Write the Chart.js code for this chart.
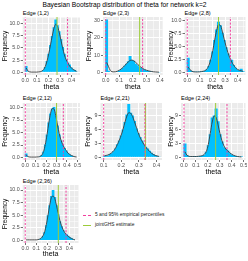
<!DOCTYPE html>
<html><head><meta charset="utf-8">
<script src="https://cdn.jsdelivr.net/npm/chart.js@4.4.1/dist/chart.umd.min.js"></script>
<style>
html,body{margin:0;padding:0;background:#fff;width:248px;height:261px;overflow:hidden;font-family:"Liberation Sans",Arial,sans-serif;}
.t{position:absolute;white-space:nowrap;color:#000;line-height:1;}
canvas{position:absolute;}
</style></head><body>
<div id="root"></div>
<script>
// ---------- DATA ----------
const mainTitle = 'Bayesian Bootstrap distribution of theta for network k=2';
const panelTitles = ['Edge (1,2)','Edge (2,3)','Edge (2,8)','Edge (2,12)','Edge (2,21)','Edge (2,24)','Edge (2,36)'];
const binStarts = [0, 0, 0, 0, 0.098, 0, 0];
const binWidths = [0.015, 0.0133, 0.015, 0.0167, 0.0107, 0.0163, 0.0153];
const hist12 = [1.3,0.2,0.1,0.1,0.1,0.1,0.1,0.1,0.1,0.2,0.5,1.1,2.3,3.8,5.6,7.4,9.2,10.8,9.6,8.4,6.8,5.2,3.8,2.6,2.0,1.6,1.0,0.6,0.5,0.2];
const dens12 = [0.9,0.3,0.1,0.05,0.05,0.05,0.05,0.08,0.12,0.25,0.55,1.2,2.3,3.8,5.6,7.4,9.0,9.8,9.4,8.2,6.6,5.0,3.6,2.6,1.9,1.3,0.9,0.6,0.4,0.2];
const hist23 = [30.5,1.0,0.3,0.2,0.2,0.3,0.5,1.0,1.7,2.6,3.8,5.0,6.5,9.5,7.2,6.8,5.0,4.2,3.2,2.5,2.0,1.5,1.1,0.8,0.6,0.4,0.3,0.2,0.2,0.1];
const dens23 = [5.8,3.5,1.2,0.4,0.3,0.4,0.7,1.2,1.9,2.8,3.9,5.0,6.1,6.9,7.1,6.7,5.9,4.9,3.9,3.0,2.3,1.7,1.3,0.95,0.7,0.5,0.35,0.25,0.18,0.12];
const hist28 = [2.8,0.4,0.2,0.1,0.1,0.1,0.1,0.15,0.2,0.3,0.6,1.2,2.4,4.0,6.2,8.2,9.7,9.0,7.6,6.2,4.8,3.6,2.6,2.4,1.4,0.9,0.5,0.3,0.7,0.2];
const dens28 = [1.0,0.5,0.2,0.1,0.08,0.08,0.1,0.15,0.22,0.35,0.7,1.4,2.6,4.2,6.2,8.0,9.1,9.0,7.9,6.4,5.0,3.8,2.8,2.0,1.4,0.9,0.6,0.4,0.3,0.2];
const hist212 = [0.8,0.1,0.1,0.1,0.1,0.1,0.1,0.1,0.2,0.5,1.2,2.6,4.6,7.0,8.8,9.8,10.1,8.4,6.4,4.6,3.4,2.6,1.9,1.4,0.9,0.6,0.4,0.2,0.1,0.1];
const dens212 = [0.5,0.2,0.1,0.08,0.08,0.08,0.1,0.12,0.2,0.5,1.2,2.6,4.6,6.9,8.8,9.8,9.7,8.4,6.5,4.8,3.5,2.6,1.9,1.4,0.9,0.6,0.4,0.25,0.15,0.1];
const hist221 = [0.3,0.4,0.3,0.7,0.9,1.3,1.9,2.8,3.6,4.7,6.0,7.6,9.2,11.5,9.6,9.0,7.8,6.2,5.2,4.4,3.6,2.8,2.3,1.9,1.4,1.0,0.7,0.4,0.3,0.2];
const dens221 = [0.3,0.4,0.5,0.7,1.0,1.4,2.0,2.8,3.7,4.8,6.1,7.6,8.9,9.6,9.5,8.8,7.7,6.5,5.3,4.3,3.5,2.8,2.2,1.7,1.3,0.9,0.6,0.4,0.3,0.2];
const hist224 = [3.0,0.5,0.2,0.2,0.2,0.3,0.2,0.2,0.3,0.4,0.6,1.2,2.6,5.0,8.6,9.0,10.5,7.8,5.0,3.4,2.2,1.8,1.5,0.9,0.6,0.4,0.3,0.2,0.1,0.2];
const dens224 = [1.2,0.5,0.25,0.2,0.2,0.2,0.2,0.25,0.3,0.4,0.7,1.3,2.8,5.2,7.6,8.9,8.6,7.0,5.1,3.6,2.5,1.8,1.4,1.0,0.7,0.45,0.3,0.2,0.15,0.1];
const hist236 = [0.1,0.1,0.1,0.1,0.1,0.1,0.1,0.1,0.2,0.4,0.8,1.6,3.0,5.0,7.0,8.8,10.0,8.6,7.0,5.2,3.8,2.8,2.0,1.4,1.2,0.9,0.6,0.4,0.2,0.1];
const dens236 = [0.1,0.1,0.1,0.1,0.1,0.1,0.1,0.15,0.25,0.45,0.9,1.7,3.1,5.0,7.0,8.5,8.8,8.3,7.0,5.4,4.0,2.9,2.1,1.5,1.1,0.8,0.55,0.35,0.2,0.1];
const histAll = [hist12, hist23, hist28, hist212, hist221, hist224, hist236];
const densAll = [dens12, dens23, dens28, dens212, dens221, dens224, dens236];
const pctLow  = [0.0, 0.0, 0.0, 0.0, 0.1, 0.0, 0.0];
const pctHigh = [0.365, 0.272, 0.342, 0.365, 0.334, 0.36, 0.37];
const estimate = [0.274, 0.25, 0.248, 0.30, 0.337, 0.265, 0.30];
const legendLabels = ['5 and 95% empirical percentiles', 'jointGHS estimate'];

// ---------- LAYOUT (positions / axis ranges) ----------
const layout = [
 {L:22.7,R:80,T:17,B:75,freq:5,thetaY:87,titleY:14, xMin:-0.0225,xMax:0.4725,xStep:0.1, yMin:-0.54,yMax:11.3,yStep:2.5,yDig:1},
 {L:103,R:162.7,T:17,B:75,freq:88.3,thetaY:87,titleY:14, xMin:-0.02,xMax:0.42,xStep:0.1, yMin:-1.5,yMax:32,yStep:10,yDig:0},
 {L:184.5,R:245.5,T:17,B:75,freq:170.3,thetaY:87,titleY:14, xMin:-0.022,xMax:0.462,xStep:0.1, yMin:-0.5,yMax:10.6,yStep:2.5,yDig:1},
 {L:22.7,R:80,T:103,B:160,freq:5,thetaY:172,titleY:99, xMin:-0.025,xMax:0.525,xStep:0.1, yMin:-0.5,yMax:10.9,yStep:2.5,yDig:1},
 {L:100.5,R:162,T:103,B:160,freq:88,thetaY:172,titleY:99, xMin:0.082,xMax:0.431,xStep:0.1, yMin:-0.58,yMax:11.7,yStep:3,yDig:0},
 {L:181,R:245.5,T:103,B:160,freq:170.3,thetaY:172,titleY:99, xMin:-0.025,xMax:0.515,xStep:0.1, yMin:-0.55,yMax:11.7,yStep:3,yDig:0},
 {L:22.7,R:78.5,T:185,B:243,freq:5,thetaY:254,titleY:182, xMin:-0.023,xMax:0.483,xStep:0.1, yMin:-0.52,yMax:11,yStep:2.5,yDig:1}
];

const PINK = '#F2409F', GREEN = '#9CCB3A', BLUE = '#00BFFF';
const root = document.getElementById('root');
function addText(txt, x, y, size, color, anchor){
  const d = document.createElement('div');
  d.className = 't'; d.textContent = txt;
  d.style.fontSize = size + 'px'; d.style.color = color || '#000';
  d.style.top = (y - size/2) + 'px';
  if (anchor === 'center') { d.style.left = x + 'px'; d.style.transform = 'translateX(-50%)'; }
  else d.style.left = x + 'px';
  root.appendChild(d); return d;
}
addText(mainTitle, 124.5, 5, 6.7, '#000', 'center');

function isMajor(v, step){ return Math.abs(v/step - Math.round(v/step)) < 1e-6; }
function mkTicks(min, max, step){
  const half = step/2, out = [];
  for (let k = Math.ceil(min/half - 1e-9); k*half <= max + 1e-9; k++) out.push(+(k*half).toFixed(6));
  return out;
}
const bgPlugin = {
  id:'bg',
  beforeDraw(chart){
    const a = chart.chartArea, c = chart.ctx;
    c.save(); c.fillStyle = '#EBEBEB'; c.fillRect(a.left, a.top, a.right-a.left, a.bottom-a.top); c.restore();
  }
};

layout.forEach((g, i) => {
  addText(panelTitles[i], g.L, g.titleY, 5.6, '#000');
  const cl = Math.round(g.freq - 4.75);
  const ct = Math.floor(g.T) - 1;
  const cb = Math.ceil(g.thetaY + 4);
  const cw = Math.ceil(g.R) + 1 - cl;
  const ch = cb - ct;
  const cv = document.createElement('canvas');
  cv.width = cw; cv.height = ch;
  cv.style.left = cl + 'px'; cv.style.top = ct + 'px';
  cv.style.width = cw + 'px'; cv.style.height = ch + 'px';
  root.appendChild(cv);

  const h = histAll[i], d = densAll[i], s = binStarts[i], w = binWidths[i];
  const histData = h.map((v, k) => ({x: s + w*(k+0.5), y: v}));
  const densData = d.map((v, k) => ({x: s + w*(k+0.5), y: v}));
  const vline = (x) => [{x: x, y: g.yMin}, {x: x, y: g.yMax}];
  const xt = mkTicks(g.xMin, g.xMax, g.xStep);
  const yt = mkTicks(g.yMin, g.yMax, g.yStep);
  const gridOpts = (step) => ({
    color: (c) => '#FFFFFF',
    lineWidth: (c) => (c.tick && isMajor(c.tick.value, step)) ? 1 : 0.5,
    tickColor: (c) => (c.tick && isMajor(c.tick.value, step)) ? '#333333' : 'rgba(0,0,0,0)',
    tickLength: 2, tickWidth: 0.7, offset: false, drawTicks: true
  });
  new Chart(cv, {
    type: 'bar',
    data: { datasets: [
      {type:'line', data: vline(pctLow[i]), borderColor: PINK, borderWidth: 1, borderDash:[2,1.6], pointRadius:0, fill:false},
      {type:'line', data: vline(pctHigh[i]), borderColor: PINK, borderWidth: 1, borderDash:[2,1.6], pointRadius:0, fill:false},
      {type:'line', data: vline(estimate[i]), borderColor: GREEN, borderWidth: 1, pointRadius:0, fill:false},
      {type:'line', data: densData, borderColor: '#3C3C3C', borderWidth: 0.9, pointRadius:0, tension:0.35, cubicInterpolationMode:'monotone', fill:false},
      {type:'bar', data: histData, backgroundColor: BLUE, borderWidth: 0, barPercentage: 1.6, categoryPercentage: 1, grouped:false}
    ]},
    options: {
      responsive:false, animation:false, devicePixelRatio:1,
      layout:{padding:{left:0, top: g.T - ct, right: cw - (g.R - cl), bottom:0}},
      plugins:{legend:{display:false}, tooltip:{enabled:false}},
      scales:{
        x:{type:'linear', min:g.xMin, max:g.xMax, offset:false,
           afterBuildTicks:(sc)=>{ sc.ticks = xt.map(v=>({value:v})); },
           afterFit:(sc)=>{ sc.height = cb - g.B; sc.paddingLeft=0; sc.paddingRight=0; sc.paddingTop=0; sc.paddingBottom=0; },
           grid: gridOpts(g.xStep), border:{display:false},
           ticks:{autoSkip:false, maxRotation:0, padding:0.5, color:'#4D4D4D', font:{size:5.3, family:'"Liberation Sans", Arial, sans-serif'},
                  callback:(v)=> isMajor(v, g.xStep) ? Number(v).toFixed(1) : ''},
           title:{display:true, text:'theta', color:'#000', font:{size:7, lineHeight:1, family:'"Liberation Sans", Arial, sans-serif'}, padding:{top:0,bottom:0.5}}
        },
        y:{type:'linear', min:g.yMin, max:g.yMax,
           afterBuildTicks:(sc)=>{ sc.ticks = yt.map(v=>({value:v})); },
           afterFit:(sc)=>{ sc.width = g.L - cl; sc.paddingLeft=0; sc.paddingRight=0; sc.paddingTop=0; sc.paddingBottom=0; },
           grid: gridOpts(g.yStep), border:{display:false},
           ticks:{autoSkip:false, padding:1, color:'#4D4D4D', font:{size:5.3, family:'"Liberation Sans", Arial, sans-serif'},
                  callback:(v)=> isMajor(v, g.yStep) ? Number(v).toFixed(g.yDig) : ''},
           title:{display:true, text:'Frequency', color:'#000', font:{size:6.5, lineHeight:1, family:'"Liberation Sans", Arial, sans-serif'}, padding:{top:1.5,bottom:0}}
        }
      }
    },
    plugins:[bgPlugin]
  });
});

// legend
function legendKey(y, color, dashed){
  const k = document.createElement('div');
  k.style.position='absolute'; k.style.left='83px'; k.style.top=(y-0.5)+'px'; k.style.width='8px'; k.style.height='0';
  k.style.borderTop = '1px ' + (dashed ? 'dashed ' : 'solid ') + color;
  root.appendChild(k);
}
legendKey(215, PINK, true);
legendKey(225, GREEN, false);
addText(legendLabels[0], 95, 215, 4.9, '#222');
addText(legendLabels[1], 95, 225, 4.9, '#222');
</script>
</body></html>
